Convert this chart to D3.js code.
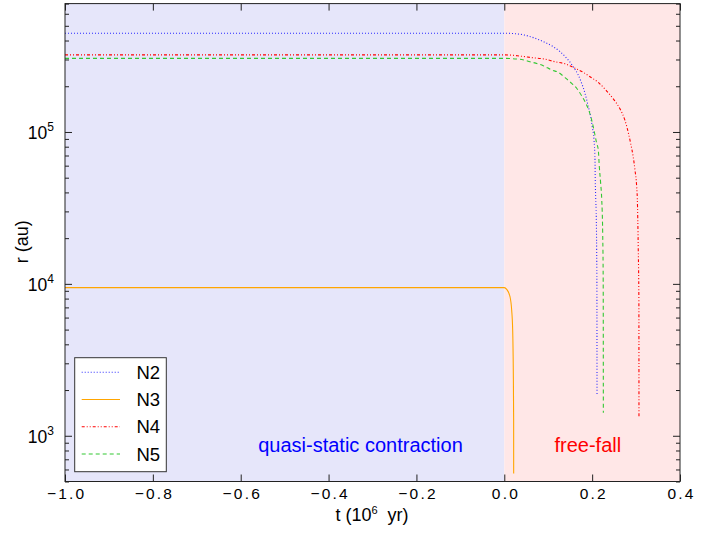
<!DOCTYPE html>
<html>
<head>
<meta charset="utf-8">
<script src="https://cdn.jsdelivr.net/npm/d3@7"></script>
<style>
  html, body { margin: 0; padding: 0; background: #fff; }
  svg { display: block; font-family: "Liberation Sans", Arial, Helvetica, sans-serif; }
</style>
</head>
<body>
<svg id="chart" width="723" height="536"></svg>
<script>
// Time axis (10^6 yr) and radii (au) for each core
const n2T = [-1.0, 0.0, 0.0357, 0.0660, 0.0888, 0.1115, 0.1268, 0.1420, 0.1571, 0.1684, 0.1762, 0.1837, 0.1912, 0.1967, 0.2003, 0.2042, 0.2065, 0.2071, 0.2081, 0.2094, 0.2103, 0.2108, 0.2110, 0.2111];
const n2R = [4.47e5, 4.47e5, 4.40e5, 4.18e5, 3.93e5, 3.64e5, 3.38e5, 3.06e5, 2.69e5, 2.37e5, 2.09e5, 1.80e5, 1.47e5, 1.26e5, 1.08e5, 8.86e4, 6.54e4, 4.83e4, 3.66e4, 2.77e4, 1.67e4, 1.01e4, 3.67e3, 1.83e3];

const n3T = [-1.0, 0.0, 0.0055, 0.0130, 0.0168, 0.0191, 0.0205, 0.0213, 0.0214];
const n3R = [9.45e3, 9.45e3, 9.2e3, 8.24e3, 6.73e3, 4.97e3, 2.71e3, 1.27e3, 565];

const n4T = [-1.0, 0.0, 0.0357, 0.0660, 0.0888, 0.1154, 0.1382, 0.1609, 0.1798, 0.1951, 0.2140, 0.2331, 0.2481, 0.2634, 0.2748, 0.2823, 0.2877, 0.2937, 0.2975, 0.3014, 0.3028, 0.3050, 0.3064, 0.3066];
const n4R = [3.22e5, 3.22e5, 3.16e5, 3.08e5, 3.03e5, 2.90e5, 2.81e5, 2.63e5, 2.47e5, 2.31e5, 2.12e5, 1.86e5, 1.65e5, 1.42e5, 1.19e5, 9.9e4, 8.4e4, 6.8e4, 5.62e4, 4.36e4, 3.66e4, 1.67e4, 7.83e3, 1.31e3];

const n5T = [-1.0, 0.0, 0.0357, 0.0585, 0.0888, 0.1079, 0.1229, 0.1382, 0.1534, 0.1648, 0.1762, 0.1853, 0.1935, 0.2026, 0.2103, 0.2140, 0.2163, 0.2194, 0.2217, 0.2240, 0.2252, 0.2254, 0.2255];
const n5R = [3.05e5, 3.05e5, 3.01e5, 2.90e5, 2.73e5, 2.56e5, 2.47e5, 2.28e5, 2.09e5, 1.94e5, 1.73e5, 1.55e5, 1.36e5, 1.08e5, 8.43e4, 7.62e4, 5.92e4, 4.59e4, 3.66e4, 2.15e4, 1.01e4, 3.67e3, 1.42e3];

const seriesNames = ["N2", "N3", "N4", "N5"];
const xTicks = [-1.0, -0.8, -0.6, -0.4, -0.2, 0.0, 0.2, 0.4];
const yMajorTicks = [1e3, 1e4, 1e5];
const yExponents = ["3", "4", "5"];
const phaseEdges = [-1.0, 0.0, 0.4];
const phaseLabels = ["quasi-static contraction", "free-fall"];

const svg = d3.select("#chart");
const plotLeft = 65, plotRight = 680, plotTop = 3.6, plotBottom = 481.5;

const x = d3.scaleLinear().domain([-1.0, 0.4]).range([plotLeft, plotRight]);
const y = d3.scaleLog().domain([500, 7e5]).range([plotBottom, plotTop]);

// phase backgrounds
const phaseFill = ["#e6e6fa", "#ffe7e7"];
svg.selectAll("rect.phase").data([0, 1]).join("rect")
  .attr("class", "phase")
  .attr("x", i => x(phaseEdges[i]))
  .attr("y", plotTop)
  .attr("width", i => x(phaseEdges[i + 1]) - x(phaseEdges[i]))
  .attr("height", plotBottom - plotTop)
  .attr("fill", i => phaseFill[i]);

// phase labels
svg.append("text").attr("x", 360.5).attr("y", 452).attr("text-anchor", "middle")
  .attr("font-size", 20).attr("fill", "#0000ff").text(phaseLabels[0]);
svg.append("text").attr("x", 554.5).attr("y", 452)
  .attr("font-size", 20).attr("fill", "#ff0000").text(phaseLabels[1]);

// curves
const styles = [
  { color: "#2a2aff", dash: "1,2" },
  { color: "#ffa500", dash: null },
  { color: "#ff0000", dash: "3,2,1,2,1,2" },
  { color: "#33c833", dash: "4,3" }
];
const seriesData = [[n2T, n2R], [n3T, n3R], [n4T, n4R], [n5T, n5R]]
  .map(([t, r]) => t.map((v, i) => [v, r[i]]));

const line = d3.line()
  .x(d => x(d[0]))
  .y(d => y(d[1]))
  .curve(d3.curveMonotoneX);

const clip = svg.append("clipPath").attr("id", "plotclip");
clip.append("rect").attr("x", plotLeft).attr("y", plotTop)
  .attr("width", plotRight - plotLeft).attr("height", plotBottom - plotTop);

svg.append("g").attr("clip-path", "url(#plotclip)")
  .selectAll("path").data(seriesData).join("path")
  .attr("d", line)
  .attr("fill", "none")
  .attr("stroke", (d, i) => styles[i].color)
  .attr("stroke-width", 1.1)
  .attr("stroke-dasharray", (d, i) => styles[i].dash);

// axes
const axisColor = "#222";
const minorY = [];
[100, 1000, 10000, 100000].forEach(b => {
  for (let k = 2; k <= 9; k++) {
    const v = b * k;
    if (v >= 500 && v <= 7e5) minorY.push(v);
  }
});

function styleAxis(g) {
  g.select(".domain").remove();
  g.selectAll(".tick line").attr("stroke", axisColor);
}

const fmt = d3.format(".1f");
const gx = svg.append("g").attr("transform", `translate(0,${plotBottom})`)
  .call(d3.axisBottom(x).tickValues(xTicks).tickSize(-7).tickPadding(6).tickFormat(fmt));
styleAxis(gx);
gx.selectAll(".tick text")
  .attr("font-size", 15.5).attr("fill", "#000")
  .attr("font-family", '"Liberation Sans", Arial, sans-serif')
  .style("letter-spacing", "2.2px")
  .attr("dx", 1.1);

const gxTop = svg.append("g").attr("transform", `translate(0,${plotTop})`)
  .call(d3.axisTop(x).tickValues(xTicks).tickSize(-7).tickFormat(""));
styleAxis(gxTop);

const gy = svg.append("g").attr("transform", `translate(${plotLeft},0)`)
  .call(d3.axisLeft(y).tickValues(yMajorTicks).tickSize(-7).tickPadding(11).tickFormat(() => ""));
styleAxis(gy);
gy.selectAll(".tick text").each(function(d, i) {
  const t = d3.select(this)
    .attr("font-size", 17.5).attr("fill", "#000").attr("dy", "0.36em")
    .attr("font-family", '"Liberation Sans", Arial, sans-serif');
  t.append("tspan").text("10");
  t.append("tspan").attr("font-size", 12).attr("dy", -7.5).text(yExponents[i]);
});

const gyMinor = svg.append("g").attr("transform", `translate(${plotLeft},0)`)
  .call(d3.axisLeft(y).tickValues(minorY).tickSize(-4).tickFormat(""));
styleAxis(gyMinor);

const gyR = svg.append("g").attr("transform", `translate(${plotRight},0)`)
  .call(d3.axisRight(y).tickValues(yMajorTicks).tickSize(-7).tickFormat(""));
styleAxis(gyR);
const gyRMinor = svg.append("g").attr("transform", `translate(${plotRight},0)`)
  .call(d3.axisRight(y).tickValues(minorY).tickSize(-4).tickFormat(""));
styleAxis(gyRMinor);

// frame
svg.append("rect").attr("x", plotLeft).attr("y", plotTop)
  .attr("width", plotRight - plotLeft).attr("height", plotBottom - plotTop)
  .attr("fill", "none").attr("stroke", axisColor).attr("stroke-width", 1);

// axis titles
const xt = svg.append("text").attr("x", 372).attr("y", 521).attr("text-anchor", "middle")
  .attr("font-size", 18).attr("fill", "#000").style("white-space", "pre");
xt.append("tspan").text("t (10");
xt.append("tspan").attr("font-size", 11).attr("dy", -7).text("6");
xt.append("tspan").attr("dy", 7).text("  yr)");

svg.append("text")
  .attr("transform", "translate(28,241.7) rotate(-90)")
  .attr("text-anchor", "middle").attr("font-size", 18).attr("fill", "#000")
  .text("r (au)");

// legend
const lg = svg.append("g");
lg.append("rect").attr("x", 74.7).attr("y", 357.7).attr("width", 91.6).attr("height", 114)
  .attr("fill", "#fff").attr("stroke", "#333").attr("stroke-width", 1);
const legendY = d3.scalePoint().domain(seriesNames).range([372.3, 454]);
seriesNames.forEach((name, i) => {
  const cy = legendY(name);
  lg.append("line").attr("x1", 81.7).attr("x2", 120).attr("y1", cy).attr("y2", cy)
    .attr("stroke", styles[i].color).attr("stroke-width", 1.1)
    .attr("stroke-dasharray", styles[i].dash);
  lg.append("text").attr("x", 136.5).attr("y", cy).attr("dy", "0.36em")
    .attr("font-size", 18.5).attr("fill", "#000").text(name);
});
</script>
</body>
</html>
